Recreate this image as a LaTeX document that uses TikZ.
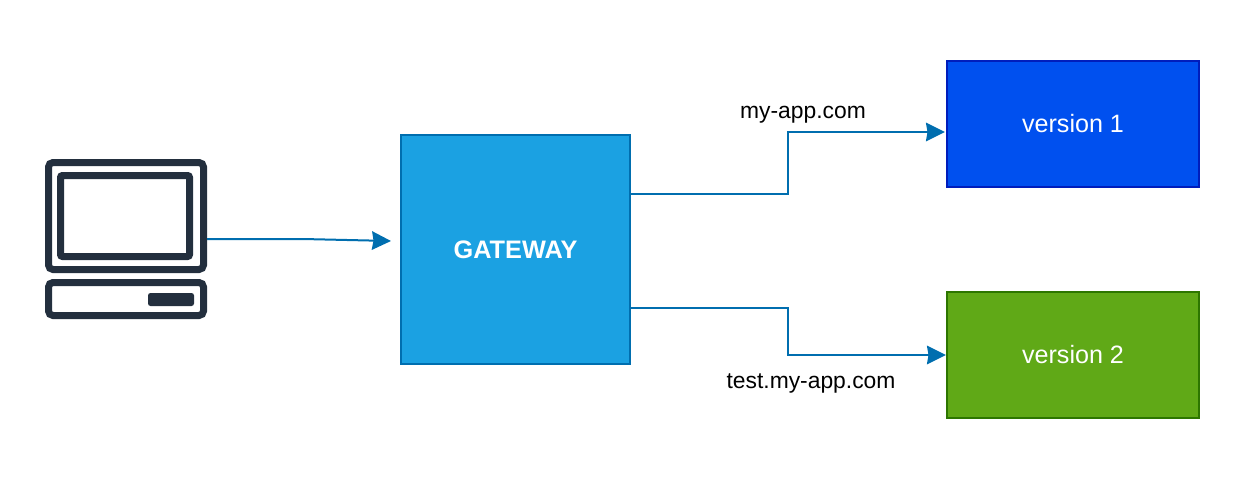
\documentclass[tikz,border=0pt]{standalone}
\usepackage{xcolor}
\usepackage{fontspec}
\setmainfont{Liberation Sans}
\usetikzlibrary{arrows.meta}

\definecolor{gatewayfill}{HTML}{1BA1E2}
\definecolor{linkblue}{HTML}{006EAF}
\definecolor{onefill}{HTML}{0050EF}
\definecolor{oneline}{HTML}{001DBC}
\definecolor{twofill}{HTML}{60A917}
\definecolor{twoline}{HTML}{2D7600}
\definecolor{pcdark}{HTML}{232F3E}

\begin{document}
\begin{tikzpicture}[
box/.style={rectangle, draw, line width=0.04cm, outer sep=0, text=white, font=\fontsize{14.3}{16}\selectfont},
gatewaybox/.style={box, minimum size=4.58cm, draw=linkblue, fill=gatewayfill, font=\fontsize{14.4}{16}\selectfont\bfseries},
onebox/.style={box, minimum width=5.04cm, minimum height=2.52cm, draw=oneline, fill=onefill},
twobox/.style={box, minimum width=5.04cm, minimum height=2.52cm, draw=twoline, fill=twofill},
pcpart/.style={rectangle, draw=pcdark, line width=0.14cm, rounded corners=0.09cm, outer sep=0, inner sep=0},
pcscreen/.style={pcpart, rounded corners=0.04cm},
pcbutton/.style={rectangle, fill=pcdark, rounded corners=0.05cm, inner sep=0, minimum width=0.92cm, minimum height=0.26cm},
urltext/.style={inner sep=0, font=\fontsize{13}{15}\selectfont},
link/.style={draw=linkblue, line width=0.04cm, -{Stealth[length=0.38cm, width=0.37cm, inset=0.03cm]}},
]
\useasboundingbox (0,0) rectangle (24.8,9.6);

\node[pcpart, minimum width=3.1cm, minimum height=2.14cm] (monitor) at (2.52,5.28){};
\node[pcscreen, minimum width=2.58cm, minimum height=1.62cm] (screen) at (2.5,5.28){};
\node[pcpart, minimum width=3.1cm, minimum height=0.66cm] (base) at (2.52,3.62){};
\node[pcbutton] (button) at (3.42,3.61){};
\node[minimum width=3.24cm, minimum height=3.2cm, inner sep=0, outer sep=0] (pc) at (2.52,4.82){};

\node[gatewaybox] (gateway) at (10.31,4.61){GATEWAY};
\node[onebox] (one) at (21.46,7.12){version 1};
\node[twobox] (two) at (21.46,2.5){version 2};

\node[urltext] (oneurl) at (16.06,7.3){my-app.com};
\node[urltext] (twourl) at (16.22,1.94){test.my-app.com};

\coordinate (pcbend) at (6.06,4.82);
\coordinate (gatewayin) at (7.82,4.78);
\coordinate (onein) at (18.9,6.96);
\coordinate (twoin) at (18.92,2.5);

\draw[link] (pc.east) -- (pcbend) -- (gatewayin);
\draw[link] (gateway.26.7) -- ++(3.16,0) |- (onein);
\draw[link] (gateway.-27) -- ++(3.16,0) |- (twoin);

\end{tikzpicture}
\end{document}
